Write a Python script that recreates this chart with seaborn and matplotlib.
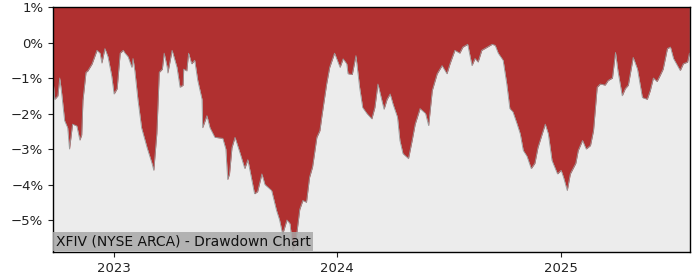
import matplotlib
matplotlib.use("Agg")
import matplotlib.pyplot as plt
import matplotlib.dates as mdates
import matplotlib.ticker as mticker
import pandas as pd
import seaborn as sns

dates = [
    "2022-09-23", "2022-09-26", "2022-10-01", "2022-10-04", "2022-10-07", "2022-10-12",
    "2022-10-17", "2022-10-20", "2022-10-25", "2022-11-01", "2022-11-06", "2022-11-09",
    "2022-11-11", "2022-11-16", "2022-11-19", "2022-11-26", "2022-12-04", "2022-12-09",
    "2022-12-12", "2022-12-17", "2022-12-22", "2022-12-28", "2023-01-01", "2023-01-06",
    "2023-01-11", "2023-01-16", "2023-01-19", "2023-01-24", "2023-01-30", "2023-02-01",
    "2023-02-04", "2023-02-09", "2023-02-15", "2023-02-24", "2023-03-04", "2023-03-07",
    "2023-03-12", "2023-03-16", "2023-03-21", "2023-03-24", "2023-03-29", "2023-03-30",
    "2023-04-06", "2023-04-09", "2023-04-14", "2023-04-19", "2023-04-24", "2023-04-25",
    "2023-04-30", "2023-05-03", "2023-05-08", "2023-05-13", "2023-05-18", "2023-05-25",
    "2023-05-26", "2023-06-02", "2023-06-07", "2023-06-15", "2023-06-28", "2023-07-03",
    "2023-07-06", "2023-07-09", "2023-07-13", "2023-07-18", "2023-07-26", "2023-08-03",
    "2023-08-08", "2023-08-19", "2023-08-24", "2023-08-31", "2023-09-05", "2023-09-16",
    "2023-09-24", "2023-09-29", "2023-10-04", "2023-10-11", "2023-10-16", "2023-10-21",
    "2023-10-27", "2023-11-01", "2023-11-06", "2023-11-12", "2023-11-17", "2023-11-22",
    "2023-11-29", "2023-12-04", "2023-12-07", "2023-12-15", "2023-12-20", "2023-12-28",
    "2024-01-06", "2024-01-11", "2024-01-17", "2024-01-19", "2024-01-26", "2024-02-01",
    "2024-02-07", "2024-02-12", "2024-02-19", "2024-02-27", "2024-03-03", "2024-03-08",
    "2024-03-14", "2024-03-18", "2024-03-23", "2024-03-28", "2024-04-02", "2024-04-09",
    "2024-04-13", "2024-04-18", "2024-04-27", "2024-05-03", "2024-05-08", "2024-05-16",
    "2024-05-25", "2024-05-30", "2024-06-05", "2024-06-13", "2024-06-21", "2024-06-29",
    "2024-07-04", "2024-07-12", "2024-07-20", "2024-07-25", "2024-08-02", "2024-08-09",
    "2024-08-14", "2024-08-19", "2024-08-25", "2024-09-03", "2024-09-11", "2024-09-16",
    "2024-09-21", "2024-09-29", "2024-10-05", "2024-10-10", "2024-10-15", "2024-10-22",
    "2024-10-27", "2024-11-01", "2024-11-07", "2024-11-14", "2024-11-20", "2024-11-25",
    "2024-12-02", "2024-12-07", "2024-12-12", "2024-12-18", "2024-12-27", "2025-01-02",
    "2025-01-06", "2025-01-12", "2025-01-17", "2025-01-26", "2025-01-30", "2025-02-06",
    "2025-02-12", "2025-02-19", "2025-02-24", "2025-03-02", "2025-03-07", "2025-03-15",
    "2025-03-20", "2025-03-27", "2025-04-01", "2025-04-05", "2025-04-12", "2025-04-17",
    "2025-04-22", "2025-04-30", "2025-05-07", "2025-05-15", "2025-05-23", "2025-05-28",
    "2025-06-02", "2025-06-08", "2025-06-13", "2025-06-18", "2025-06-25", "2025-06-30",
    "2025-07-05", "2025-07-16", "2025-07-21", "2025-07-28", "2025-07-31",
]

drawdown_pct = [
    -1.05, -1.6, -1.5, -1.0, -1.4, -2.2,
    -2.4, -3.0, -2.3, -2.35, -2.75, -2.6,
    -1.63, -0.84, -0.8, -0.6, -0.22, -0.3,
    -0.58, -0.17, -0.4, -0.93, -1.45, -1.3,
    -0.3, -0.22, -0.3, -0.4, -0.7, -0.45,
    -0.8, -1.6, -2.4, -2.96, -3.4, -3.6,
    -2.56, -0.84, -0.75, -0.3, -0.7, -0.86,
    -0.22, -0.4, -0.7, -1.26, -1.2, -0.75,
    -0.8, -0.3, -0.6, -0.5, -1.07, -1.6,
    -2.4, -2.06, -2.4, -2.67, -2.7, -3.0,
    -3.86, -3.7, -2.96, -2.67, -3.1, -3.55,
    -3.3, -4.26, -4.2, -3.7, -4.0, -4.17,
    -4.73, -5.0, -5.4, -5.0, -5.1, -5.86,
    -5.4, -4.7, -4.45, -4.5, -3.8, -3.5,
    -2.67, -2.48, -2.1, -1.17, -0.7, -0.3,
    -0.7, -0.46, -0.6, -0.88, -0.9, -0.37,
    -1.26, -1.83, -2.0, -2.15, -1.83, -1.17,
    -1.6, -1.88, -1.6, -1.45, -1.75, -2.1,
    -2.76, -3.13, -3.27, -2.76, -2.3, -1.86,
    -2.0, -2.34, -1.35, -0.88, -0.65, -0.88,
    -0.6, -0.22, -0.3, -0.13, -0.05, -0.65,
    -0.45, -0.55, -0.22, -0.13, -0.05, -0.08,
    -0.3, -0.5, -1.17, -1.86, -1.95, -2.3,
    -2.57, -3.04, -3.2, -3.55, -3.4, -2.96,
    -2.57, -2.3, -2.57, -3.32, -3.7, -3.6,
    -3.8, -4.17, -3.7, -3.4, -3.04, -2.76,
    -3.0, -2.9, -2.48, -1.26, -1.17, -1.2,
    -1.07, -1.0, -0.28, -0.8, -1.5, -1.3,
    -1.2, -0.42, -0.75, -1.55, -1.6, -1.35,
    -1.0, -1.1, -0.93, -0.75, -0.17, -0.13,
    -0.45, -0.79, -0.6, -0.55, -0.3,
]

title_text = "XFIV (NYSE ARCA) - Drawdown Chart"
year_ticks = ["2023-01-01", "2024-01-01", "2025-01-01"]
y_ticks = [1, 0, -1, -2, -3, -4, -5]

df = pd.DataFrame({"date": pd.to_datetime(dates), "dd": drawdown_pct})

sns.set_style("ticks")
plt.rcParams["font.family"] = ["DejaVu Sans"]

fig = plt.figure(figsize=(7, 2.8), dpi=100)
ax = fig.add_axes([53 / 700, 1 - 252 / 280, 637 / 700, 245 / 280])
ax.set_facecolor("#ececec")

ymin, ymax = -5.9, 1.0
ax.fill_between(df["date"], df["dd"], ymax + 1, color="#b03030", linewidth=0, zorder=1)
sns.lineplot(data=df, x="date", y="dd", ax=ax, color="#9a9a9a", linewidth=0.6, zorder=2)

ax.set_ylim(ymin, ymax)
ax.set_xlim(pd.Timestamp("2022-09-23"), pd.Timestamp("2025-08-01"))
ax.set_yticks(y_ticks)
ax.yaxis.set_major_formatter(mticker.FuncFormatter(lambda v, p: f"{int(round(v))}%".replace("-", "\u2212")))
ax.set_xticks(pd.to_datetime(year_ticks))
ax.xaxis.set_major_formatter(mdates.DateFormatter("%Y"))
ax.set_xlabel("")
ax.set_ylabel("")
ax.tick_params(labelsize=9.5, length=3.5, width=0.8, colors="#222222")
for s in ax.spines.values():
    s.set_visible(True)
    s.set_color("black")
    s.set_linewidth(1.0)

ax.text(0.004, 0.015, title_text, transform=ax.transAxes, fontsize=10, color="#111111",
        ha="left", va="bottom", zorder=5,
        bbox=dict(boxstyle="square,pad=0.2", facecolor="#a8a8a8", edgecolor="none", alpha=0.85))

fig.savefig("out.png", dpi=100)
